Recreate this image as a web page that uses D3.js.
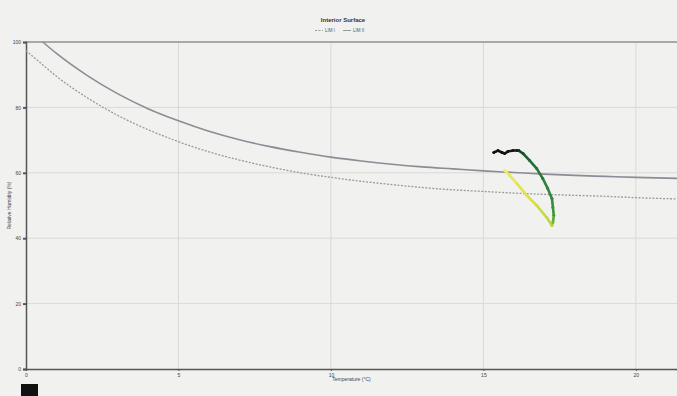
<!DOCTYPE html>
<meta charset="utf-8">
<style>

html, body {
  margin: 0;
  background: #f1f1ef;
  font: 5px "Liberation Sans", sans-serif;
}

svg {
  display: block;
}

.grid line {
  stroke: #d9d9d9;
  stroke-width: 1px;
}

.axis path, .axis line {
  stroke: #555;
}

.axis text {
  fill: #444;
  font-size: 5px;
}

</style>
<svg class="chart"></svg>
<script src="https://d3js.org/d3.v7.min.js"></script>
<script>

// isopleth curves (temperature in C, relative humidity in %)
var curveTemps = [0, 0.55, 1, 2, 3, 4, 5, 6, 7, 8, 9, 10, 11, 12, 13, 14, 15, 16, 17, 18, 19, 20, 21.35];
var limSolid = [null, 100, 96.5, 89.8, 84.2, 79.6, 75.9, 72.7, 70.1, 68.0, 66.3, 64.8, 63.6, 62.6, 61.8, 61.2, 60.6, 60.1, 59.6, 59.2, 58.9, 58.6, 58.3];
var limDashed = [97.3, 93.0, 89.5, 83.0, 77.6, 73.2, 69.5, 66.4, 63.9, 61.8, 60.0, 58.6, 57.4, 56.4, 55.5, 54.8, 54.3, 53.8, 53.4, 53.1, 52.8, 52.4, 52.0];

// measured surface conditions, in time order
var measTemp = [15.34, 15.48, 15.61, 15.70, 15.80, 15.97, 16.10, 16.16, 16.30, 16.52, 16.75, 16.95, 17.11, 17.25, 17.28, 17.31, 17.28, 17.25, 17.08, 16.75, 16.43, 16.10, 15.87, 15.70];
var measRH = [66.2, 66.8, 66.2, 65.9, 66.5, 66.8, 66.8, 66.8, 65.9, 63.7, 61.3, 58.2, 55.2, 52.1, 49.4, 47.0, 44.8, 43.9, 46.3, 50.0, 53.0, 56.7, 59.1, 60.7];

var xTicks = [0, 5, 10, 15, 20];
var yTicks = [0, 20, 40, 60, 80, 100];
var legendNames = ['LIM I', 'LIM II'];

var width = 677;
var height = 396;
var margin = {left: 26, right: 0, top: 42, bottom: 27};

var svg = d3.select('svg.chart')
  .attr('width', width)
  .attr('height', height);

var x = d3.scaleLinear()
  .domain([0, 21.35])
  .range([margin.left, width - margin.right]);

var y = d3.scaleLinear()
  .domain([0, 100])
  .range([height - margin.bottom, margin.top]);

svg.append('rect')
  .attr('width', width)
  .attr('height', height)
  .attr('fill', '#f1f1ef');

// grid
var grid = svg.append('g').attr('class', 'grid');

grid.selectAll('line.v')
  .data(xTicks.slice(1))
  .enter().append('line')
  .attr('x1', function (d) { return x(d); })
  .attr('x2', function (d) { return x(d); })
  .attr('y1', y(100))
  .attr('y2', y(0));

grid.selectAll('line.h')
  .data(yTicks.slice(1, -1))
  .enter().append('line')
  .attr('x1', x(0))
  .attr('x2', width)
  .attr('y1', function (d) { return y(d); })
  .attr('y2', function (d) { return y(d); });

// top border
svg.append('line')
  .attr('x1', x(0))
  .attr('x2', width)
  .attr('y1', y(100))
  .attr('y2', y(100))
  .attr('stroke', '#a8a8a8')
  .attr('stroke-width', 2);

// axes
svg.append('g')
  .attr('class', 'axis')
  .attr('transform', 'translate(0,' + y(0) + ')')
  .call(d3.axisBottom(x).tickValues(xTicks).tickSize(2).tickPadding(2))
  .call(function (g) { g.select('.domain').attr('stroke-width', 1.5).attr('stroke', '#777'); });

svg.append('g')
  .attr('class', 'axis')
  .attr('transform', 'translate(' + x(0) + ',0)')
  .call(d3.axisLeft(y).tickValues(yTicks).tickSize(3).tickPadding(2))
  .call(function (g) {
    g.select('.domain').attr('stroke-width', 1.5).attr('stroke', '#777');
    g.selectAll('.tick line').attr('stroke-width', 2).attr('stroke', '#666');
  });

// curves
var curveLine = function (vals) {
  return d3.line()
    .defined(function (d, i) { return vals[i] !== null; })
    .x(function (d) { return x(d); })
    .y(function (d, i) { return y(vals[i]); })
    .curve(d3.curveMonotoneX)(curveTemps);
};

var plot = svg.append('g');

plot.append('path')
  .attr('d', curveLine(limDashed))
  .attr('fill', 'none')
  .attr('stroke', '#9a9a9a')
  .attr('stroke-width', 1.3)
  .attr('stroke-dasharray', '2,1.5');

plot.append('path')
  .attr('d', curveLine(limSolid))
  .attr('fill', 'none')
  .attr('stroke', '#8c8c94')
  .attr('stroke-width', 1.6);

// measurement trajectory coloured by time
var n = measTemp.length;
var color = d3.scaleLinear()
  .domain([0, 6, 9, 15, 17, 20, n - 1])
  .range(['#111', '#1a1a1a', '#1f6b37', '#3c9a3a', '#b8d23a', '#dde048', '#eeee6a']);

var segs = d3.range(n - 1);

plot.selectAll('line.meas')
  .data(segs)
  .enter().append('line')
  .attr('x1', function (i) { return x(measTemp[i]); })
  .attr('y1', function (i) { return y(measRH[i]); })
  .attr('x2', function (i) { return x(measTemp[i + 1]); })
  .attr('y2', function (i) { return y(measRH[i + 1]); })
  .attr('stroke', function (i) { return color(i + 0.5); })
  .attr('stroke-width', 2.6)
  .attr('stroke-linecap', 'round');

plot.selectAll('circle.meas')
  .data(d3.range(n))
  .enter().append('circle')
  .attr('cx', function (i) { return x(measTemp[i]); })
  .attr('cy', function (i) { return y(measRH[i]); })
  .attr('r', 1.4)
  .attr('fill', function (i) { return color(i); });

// title and legend
svg.append('text')
  .attr('x', 343)
  .attr('y', 22)
  .attr('text-anchor', 'middle')
  .attr('font-size', 6)
  .attr('font-weight', 'bold')
  .attr('fill', '#333')
  .text('Interior Surface');

var legend = svg.append('g').attr('transform', 'translate(315,32)');

legend.append('line')
  .attr('x1', 0).attr('x2', 8).attr('y1', -1.5).attr('y2', -1.5)
  .attr('stroke', '#999').attr('stroke-dasharray', '2,1.5');
legend.append('text')
  .attr('x', 10).attr('font-size', 4.5).attr('fill', '#555')
  .text(legendNames[0]);
legend.append('line')
  .attr('x1', 28).attr('x2', 36).attr('y1', -1.5).attr('y2', -1.5)
  .attr('stroke', '#999');
legend.append('text')
  .attr('x', 38).attr('font-size', 4.5).attr('fill', '#555')
  .text(legendNames[1]);

// axis titles
svg.append('text')
  .attr('x', (x(0) + width) / 2)
  .attr('y', 381)
  .attr('text-anchor', 'middle')
  .attr('font-size', 5)
  .attr('fill', '#444')
  .text('Temperature (\u00b0C)');

svg.append('text')
  .attr('transform', 'translate(11,' + y(50) + ') rotate(-90)')
  .attr('text-anchor', 'middle')
  .attr('font-size', 5)
  .attr('fill', '#444')
  .text('Relative Humidity (%)');

// small black block below the axis
svg.append('rect')
  .attr('x', 21)
  .attr('y', 384)
  .attr('width', 17)
  .attr('height', 12)
  .attr('fill', '#111');

</script>
